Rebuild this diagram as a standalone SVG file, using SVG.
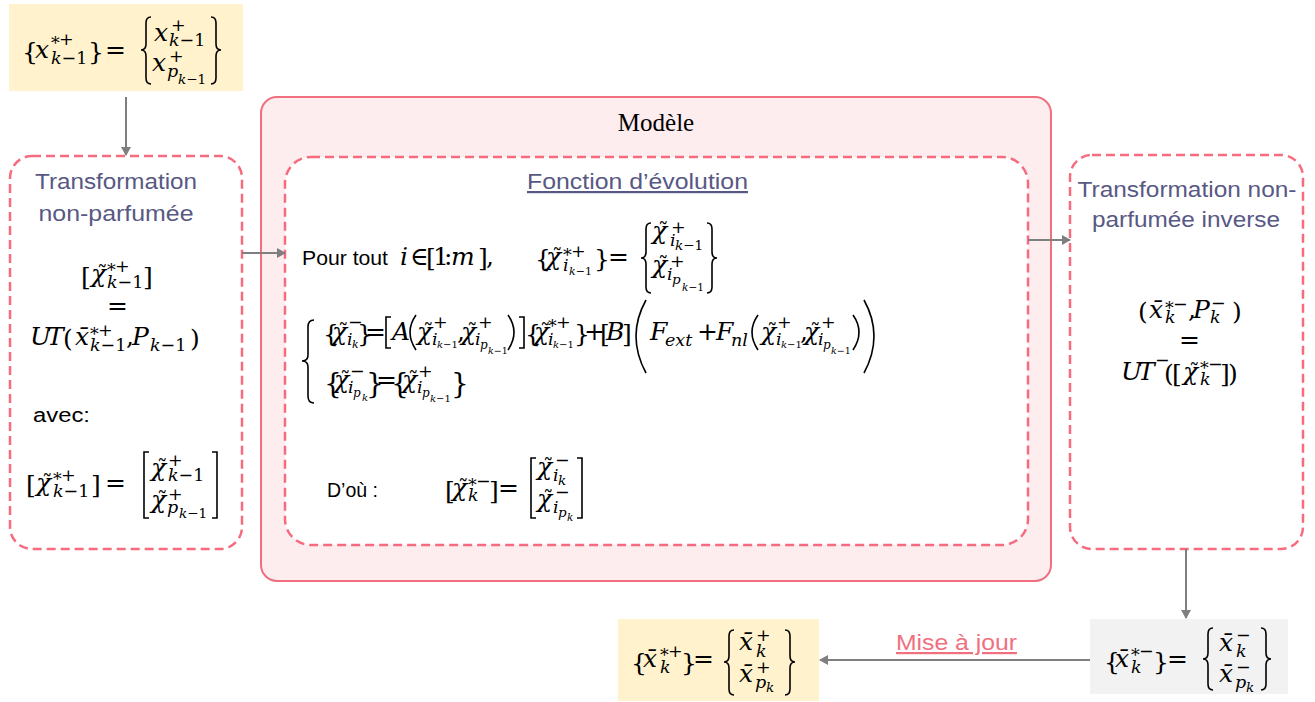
<svg xmlns="http://www.w3.org/2000/svg" width="1315" height="702" viewBox="0 0 1315 702">
<style>
.mt{font-family:"DejaVu Serif","Liberation Serif",serif;font-style:italic;font-size:25px;fill:#000}
.u{font-style:normal}
.s{font-size:17.5px}
.ss{font-size:13.5px}
.sss{font-size:10.5px}
.tl{font-style:normal;font-size:21px}
.dl{fill:none;stroke:#000;stroke-width:1.6}
.dash{fill:none;stroke:#F66B7E;stroke-width:2.5;stroke-dasharray:9 5}
.title{font-family:"Liberation Sans",Arial,sans-serif;font-size:22px;fill:#585884}
.sans{font-family:"Liberation Sans",Arial,sans-serif;font-size:20px;fill:#000}
.conn{stroke:#7F7F7F;stroke-width:2;fill:none}
</style>
<defs>
<marker id="ah" markerWidth="10" markerHeight="10" refX="8" refY="5" orient="auto" markerUnits="userSpaceOnUse">
<path d="M0,0 L9,5 L0,10 Z" fill="#7F7F7F"/>
</marker>
</defs>

<g id="model">
<rect x="261" y="97" width="790" height="484" rx="16" fill="#FDEDEF" stroke="#F0707F" stroke-width="2"/>
<text x="656" y="131" text-anchor="middle" font-family="Liberation Serif,serif" font-size="25">Modèle</text>
</g>

<g id="input">
<rect x="9" y="4" width="234" height="87" fill="#FFF2CC"/>
<text class="mt"><tspan class="u" x="22" y="60">{</tspan><tspan x="35" y="58">x</tspan><tspan class="s u" x="51" y="49">*</tspan><tspan class="s u" x="59" y="45">+</tspan><tspan class="s" x="51" y="64">k<tspan class="u">−1</tspan></tspan><tspan class="u" x="88" y="60">}</tspan><tspan class="u" x="105" y="58">=</tspan>
<tspan x="154" y="41">x</tspan><tspan class="s u" x="171" y="31">+</tspan><tspan class="s" x="169" y="46">k<tspan class="u">−1</tspan></tspan>
<tspan x="152" y="71">x</tspan><tspan class="s u" x="169" y="62">+</tspan><tspan class="s" x="167" y="77">p</tspan><tspan class="ss" x="178" y="84">k<tspan class="u">−1</tspan></tspan></text>
<path class="dl" d="M151,17 Q146,17 146,23 L146,44 Q146,50 141,50 Q146,50 146,56 L146,78 Q146,84 151,84"/>
<path class="dl" d="M211,17 Q216,17 216,23 L216,44 Q216,50 221,50 Q216,50 216,56 L216,78 Q216,84 211,84"/>
</g>

<g id="ut">
<rect x="10" y="156" width="232" height="393" rx="22" fill="#FFFFFF"/>
<rect x="10" y="156" width="232" height="393" rx="22" class="dash"/>
<text class="title" x="116" y="189" text-anchor="middle" textLength="162" lengthAdjust="spacingAndGlyphs">Transformation</text>
<text class="title" x="116" y="221" text-anchor="middle" textLength="155" lengthAdjust="spacingAndGlyphs">non-parfumée</text>
<text class="mt"><tspan class="u" x="81" y="285">[</tspan><tspan x="91" y="282">χ</tspan><tspan class="tl" x="97" y="280">˜</tspan><tspan class="s u" x="107" y="276">*</tspan><tspan class="s u" x="115" y="272">+</tspan><tspan class="s" x="107" y="288">k<tspan class="u">−1</tspan></tspan><tspan class="u" x="143" y="285">]</tspan>
<tspan class="u" x="107" y="314">=</tspan>
<tspan x="30" y="345">U</tspan><tspan x="47" y="345">T</tspan><tspan class="u" x="63" y="347">(</tspan><tspan x="75" y="345">x̄</tspan><tspan class="s u" x="90" y="340">*</tspan><tspan class="s u" x="98" y="336">+</tspan><tspan class="s" x="90" y="351">k<tspan class="u">−1</tspan></tspan><tspan class="u" x="126" y="345">,</tspan><tspan x="132" y="345">P</tspan><tspan class="s" x="150" y="351">k<tspan class="u">−1</tspan></tspan><tspan class="u" x="190" y="347">)</tspan></text>
<text class="sans" x="33" y="422" font-size="21" textLength="57" lengthAdjust="spacingAndGlyphs">avec:</text>
<text class="mt"><tspan class="u" x="26" y="493">[</tspan><tspan x="36" y="491">χ</tspan><tspan class="tl" x="42" y="489">˜</tspan><tspan class="s u" x="53" y="485">*</tspan><tspan class="s u" x="61" y="481">+</tspan><tspan class="s" x="53" y="497">k<tspan class="u">−1</tspan></tspan><tspan class="u" x="91" y="493">]</tspan><tspan class="u" x="105" y="491">=</tspan>
<tspan x="151" y="476">χ</tspan><tspan class="tl" x="157" y="474">˜</tspan><tspan class="s u" x="168" y="466">+</tspan><tspan class="s" x="168" y="481">k<tspan class="u">−1</tspan></tspan>
<tspan x="151" y="508">χ</tspan><tspan class="tl" x="157" y="506">˜</tspan><tspan class="s u" x="168" y="500">+</tspan><tspan class="s" x="167" y="513">p</tspan><tspan class="ss" x="179" y="518">k<tspan class="u">−1</tspan></tspan></text>
<path class="dl" d="M149,452 H144 V518 H149"/>
<path class="dl" d="M212,452 H217 V518 H212"/>
</g>

<g id="evolution">
<rect x="285" y="157" width="743" height="388" rx="26" fill="#FFFFFF"/>
<rect x="285" y="157" width="743" height="388" rx="26" class="dash"/>
<text class="title" x="527" y="189" textLength="221" lengthAdjust="spacingAndGlyphs" text-decoration="underline">Fonction d’évolution</text>
<text class="sans" x="302" y="265" font-size="21" textLength="86" lengthAdjust="spacingAndGlyphs">Pour tout</text>
<text class="mt"><tspan x="400" y="265">i</tspan><tspan class="u" x="410" y="265">∈</tspan><tspan class="u" x="426" y="266">[</tspan><tspan class="u" x="433" y="265">1</tspan><tspan class="u" x="444" y="265">:</tspan><tspan x="451" y="265">m</tspan><tspan class="u" x="478" y="266">]</tspan><tspan class="u" x="486" y="265">,</tspan>
<tspan class="u" x="535" y="267">{</tspan><tspan x="546" y="265">χ</tspan><tspan class="tl" x="552" y="263">˜</tspan><tspan class="s u" x="563" y="261">*</tspan><tspan class="s u" x="571" y="257">+</tspan><tspan class="s" x="563" y="271">i</tspan><tspan x="569" y="275" font-size="11">k<tspan class="u">−1</tspan></tspan><tspan class="u" x="594" y="267">}</tspan><tspan class="u" x="608" y="265">=</tspan>
<tspan x="652" y="239">χ</tspan><tspan class="tl" x="658" y="237">˜</tspan><tspan class="s u" x="671" y="233">+</tspan><tspan class="s" x="670" y="246">i</tspan><tspan class="ss" x="675" y="250">k<tspan class="u">−1</tspan></tspan>
<tspan x="652" y="273">χ</tspan><tspan class="tl" x="658" y="271">˜</tspan><tspan class="s u" x="670" y="267">+</tspan><tspan class="s" x="667" y="280">i</tspan><tspan class="ss" x="672" y="284">p</tspan><tspan class="sss" x="682" y="291">k<tspan class="u">−1</tspan></tspan></text>
<path class="dl" d="M651,223 Q646,223 646,229 L646,252 Q646,258 641,258 Q646,258 646,264 L646,287 Q646,293 651,293"/>
<path class="dl" d="M707,223 Q712,223 712,229 L712,252 Q712,258 717,258 Q712,258 712,264 L712,287 Q712,293 707,293"/>

<path class="dl" d="M314,320 Q308,320 308,327 L308,355 Q308,361 302,361 Q308,361 308,367 L308,396 Q308,403 314,403"/>
<text class="mt" font-size="24"><tspan class="u" x="323" y="342">{</tspan><tspan x="332" y="340">χ</tspan><tspan class="tl" x="338" y="338">˜</tspan><tspan class="s u" x="348" y="328">−</tspan><tspan class="s" x="347" y="345">i</tspan><tspan x="352" y="348" font-size="11">k</tspan><tspan class="u" x="357" y="342">}</tspan><tspan class="u" x="365" y="340">=</tspan>
<tspan x="392" y="340">A</tspan>
<tspan x="417" y="340">χ</tspan><tspan class="tl" x="423" y="338">˜</tspan><tspan class="s u" x="433" y="328">+</tspan><tspan class="s" x="432" y="345">i</tspan><tspan x="437" y="348" font-size="10">k<tspan class="u">−1</tspan></tspan><tspan class="u" x="457" y="340">,</tspan>
<tspan x="461" y="340">χ</tspan><tspan class="tl" x="467" y="338">˜</tspan><tspan class="s u" x="478" y="328">+</tspan><tspan class="s" x="475" y="345">i</tspan><tspan x="480" y="349" font-size="12">p</tspan><tspan x="488" y="354" font-size="9.5">k<tspan class="u">−1</tspan></tspan>
<tspan class="u" x="525" y="342">{</tspan><tspan x="534" y="340">χ</tspan><tspan class="tl" x="540" y="338">˜</tspan><tspan class="s u" x="548" y="332">*</tspan><tspan class="s u" x="556" y="328">+</tspan><tspan class="s" x="548" y="345">i</tspan><tspan x="553" y="348" font-size="10">k<tspan class="u">−1</tspan></tspan><tspan class="u" x="574" y="342">}</tspan>
<tspan class="u" x="584" y="340">+</tspan><tspan class="u" x="600" y="342">[</tspan><tspan x="606" y="340">B</tspan><tspan class="u" x="622" y="342">]</tspan>
<tspan x="650" y="340">F</tspan><tspan class="s" x="665" y="346">ext</tspan><tspan class="u" x="697" y="340">+</tspan><tspan x="716" y="340">F</tspan><tspan class="s" x="731" y="346">nl</tspan>
<tspan x="761" y="340">χ</tspan><tspan class="tl" x="767" y="338">˜</tspan><tspan class="s u" x="777" y="328">+</tspan><tspan class="s" x="776" y="345">i</tspan><tspan x="781" y="348" font-size="10">k<tspan class="u">−1</tspan></tspan><tspan class="u" x="800" y="340">,</tspan>
<tspan x="804" y="340">χ</tspan><tspan class="tl" x="810" y="338">˜</tspan><tspan class="s u" x="821" y="328">+</tspan><tspan class="s" x="818" y="345">i</tspan><tspan x="823" y="349" font-size="12">p</tspan><tspan x="831" y="354" font-size="9.5">k<tspan class="u">−1</tspan></tspan></text>
<path class="dl" d="M391,317 H386 V348 H391"/>
<path class="dl" d="M416,315 Q404,332 416,350"/>
<path class="dl" d="M508,315 Q520,332 508,350"/>
<path class="dl" d="M519,317 H524 V348 H519"/>
<path class="dl" d="M646,300 Q626,336 646,373"/>
<path class="dl" d="M758,315 Q746,332 758,350"/>
<path class="dl" d="M853,315 Q865,332 853,350"/>
<path class="dl" d="M864,300 Q884,336 864,373"/>

<text class="mt" font-size="24"><tspan class="u" x="324" y="393" font-size="28">{</tspan><tspan x="334" y="388">χ</tspan><tspan class="tl" x="340" y="386">˜</tspan><tspan class="s u" x="350" y="377">−</tspan><tspan class="s" x="348" y="393">i</tspan><tspan x="353" y="397" font-size="12">p</tspan><tspan x="362" y="401" font-size="10">k</tspan><tspan class="u" x="366" y="393" font-size="28">}</tspan><tspan class="u" x="376" y="388">=</tspan>
<tspan class="u" x="391" y="393" font-size="28">{</tspan><tspan x="402" y="388">χ</tspan><tspan class="tl" x="408" y="386">˜</tspan><tspan class="s u" x="418" y="377">+</tspan><tspan class="s" x="417" y="393">i</tspan><tspan x="422" y="397" font-size="12">p</tspan><tspan x="430" y="402" font-size="10">k<tspan class="u">−1</tspan></tspan><tspan class="u" x="451" y="393" font-size="28">}</tspan></text>

<text class="sans" x="327" y="497" textLength="51" lengthAdjust="spacingAndGlyphs">D’où :</text>
<text class="mt"><tspan class="u" x="445" y="499">[</tspan><tspan x="452" y="496">χ</tspan><tspan class="tl" x="458" y="494">˜</tspan><tspan class="s u" x="468" y="491">*</tspan><tspan class="s u" x="476" y="487">−</tspan><tspan class="s" x="468" y="501">k</tspan><tspan class="u" x="489" y="499">]</tspan><tspan class="u" x="498" y="496">=</tspan>
<tspan x="537" y="475">χ</tspan><tspan class="tl" x="543" y="473">˜</tspan><tspan class="s u" x="555" y="466">−</tspan><tspan class="s" x="553" y="481">i</tspan><tspan class="ss" x="558" y="485">k</tspan>
<tspan x="537" y="507">χ</tspan><tspan class="tl" x="543" y="505">˜</tspan><tspan class="s u" x="555" y="498">−</tspan><tspan class="s" x="553" y="513">i</tspan><tspan class="ss" x="558" y="517">p</tspan><tspan class="sss" x="567" y="521">k</tspan></text>
<path class="dl" d="M536,458 H531 V518 H536"/>
<path class="dl" d="M577,458 H582 V518 H577"/>
</g>

<g id="uti">
<rect x="1070" y="155" width="233" height="394" rx="22" fill="#FFFFFF"/>
<rect x="1070" y="155" width="233" height="394" rx="22" class="dash"/>
<text class="title" x="1187" y="197" text-anchor="middle" textLength="219" lengthAdjust="spacingAndGlyphs">Transformation non-</text>
<text class="title" x="1186" y="227" text-anchor="middle" textLength="188" lengthAdjust="spacingAndGlyphs">parfumée inverse</text>
<text class="mt"><tspan class="u" x="1138" y="320">(</tspan><tspan x="1149" y="318">x̄</tspan><tspan class="s u" x="1165" y="314">*</tspan><tspan class="s u" x="1173" y="310">−</tspan><tspan class="s" x="1165" y="323">k</tspan><tspan class="u" x="1188" y="318">,</tspan><tspan x="1193" y="318">P</tspan><tspan class="s u" x="1211" y="309">−</tspan><tspan class="s" x="1210" y="323">k</tspan><tspan class="u" x="1232" y="320">)</tspan>
<tspan class="u" x="1179" y="348">=</tspan>
<tspan x="1121" y="380">U</tspan><tspan x="1138" y="380">T</tspan><tspan class="s u" x="1155" y="366">−</tspan><tspan class="u" x="1164" y="382">(</tspan><tspan class="u" x="1172" y="382">[</tspan><tspan x="1183" y="380">χ</tspan><tspan class="tl" x="1189" y="378">˜</tspan><tspan class="s u" x="1200" y="374">*</tspan><tspan class="s u" x="1208" y="370">−</tspan><tspan class="s" x="1200" y="385">k</tspan><tspan class="u" x="1220" y="382">]</tspan><tspan class="u" x="1228" y="382">)</tspan></text>
</g>

<g id="predicted">
<rect x="1090" y="619" width="198" height="75" fill="#F2F2F2"/>
<text class="mt"><tspan class="u" x="1104" y="670">{</tspan><tspan x="1115" y="667">x̄</tspan><tspan class="s u" x="1131" y="661">*</tspan><tspan class="s u" x="1139" y="657">−</tspan><tspan class="s" x="1131" y="673">k</tspan><tspan class="u" x="1153" y="670">}</tspan><tspan class="u" x="1167" y="667">=</tspan>
<tspan x="1219" y="651">x̄</tspan><tspan class="s u" x="1236" y="641">−</tspan><tspan class="s" x="1236" y="657">k</tspan>
<tspan x="1219" y="682">x̄</tspan><tspan class="s u" x="1236" y="673">−</tspan><tspan class="s" x="1235" y="688">p</tspan><tspan class="ss" x="1246" y="692">k</tspan></text>
<path class="dl" d="M1213,628 Q1208,628 1208,634 L1208,653 Q1208,659 1203,659 Q1208,659 1208,665 L1208,684 Q1208,690 1213,690"/>
<path class="dl" d="M1261,628 Q1266,628 1266,634 L1266,653 Q1266,659 1271,659 Q1266,659 1266,665 L1266,684 Q1266,690 1261,690"/>
</g>

<g id="updated">
<rect x="618" y="619" width="201" height="82" fill="#FFF2CC"/>
<text class="mt"><tspan class="u" x="631" y="671">{</tspan><tspan x="643" y="667">x̄</tspan><tspan class="s u" x="660" y="661">*</tspan><tspan class="s u" x="668" y="657">+</tspan><tspan class="s" x="660" y="673">k</tspan><tspan class="u" x="681" y="671">}</tspan><tspan class="u" x="693" y="667">=</tspan>
<tspan x="739" y="650">x̄</tspan><tspan class="s u" x="756" y="641">+</tspan><tspan class="s" x="756" y="657">k</tspan>
<tspan x="739" y="682">x̄</tspan><tspan class="s u" x="756" y="673">+</tspan><tspan class="s" x="755" y="688">p</tspan><tspan class="ss" x="766" y="692">k</tspan></text>
<path class="dl" d="M734,630 Q729,630 729,636 L729,656 Q729,662 724,662 Q729,662 729,668 L729,689 Q729,695 734,695"/>
<path class="dl" d="M785,630 Q790,630 790,636 L790,656 Q790,662 795,662 Q790,662 790,668 L790,689 Q790,695 785,695"/>
</g>

<g id="connectors">
<path class="conn" d="M126,97 V155" marker-end="url(#ah)"/>
<path class="conn" d="M242,253 H285" marker-end="url(#ah)"/>
<path class="conn" d="M1028,240 H1070" marker-end="url(#ah)"/>
<path class="conn" d="M1186,549 V618" marker-end="url(#ah)"/>
<path class="conn" d="M1090,660 H820" marker-end="url(#ah)"/>
<text x="896" y="650" font-family="Liberation Sans,Arial,sans-serif" font-size="22" fill="#F07080" textLength="121" lengthAdjust="spacingAndGlyphs" text-decoration="underline">Mise à jour</text>
</g>
</svg>
